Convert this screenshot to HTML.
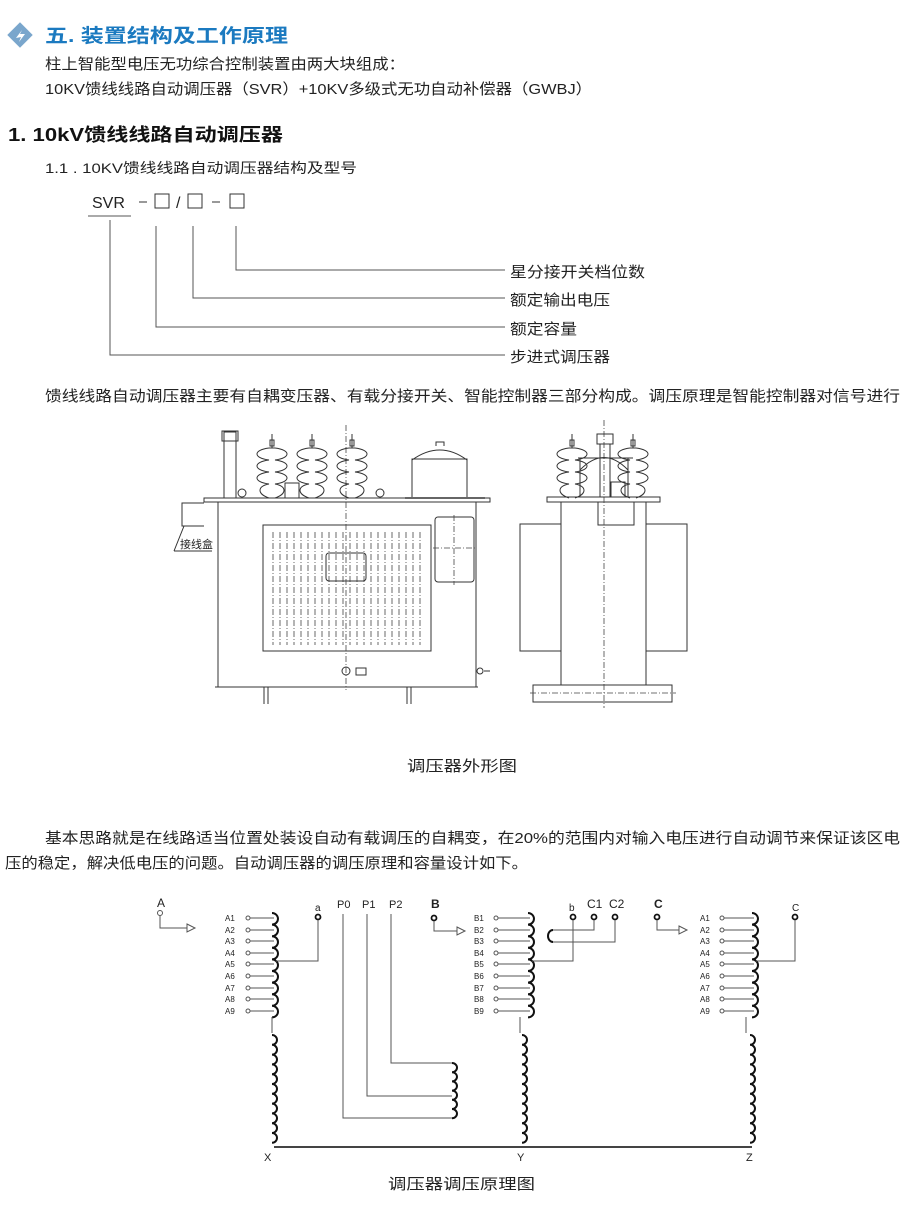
<!DOCTYPE html>
<html><head><meta charset="utf-8"><style>
html,body{margin:0;padding:0;background:#fff;width:910px;height:1223px;overflow:hidden}
svg{display:block}
text{font-family:"Liberation Sans","Noto Sans CJK SC",sans-serif;fill:#222}
.t{font-size:15px}
.s{font-size:8px;fill:#333}
.l{stroke:#555;stroke-width:1;fill:none}
.d{stroke:#333;stroke-width:1;fill:none}
.dash{stroke:#444;stroke-width:0.8;fill:none;stroke-dasharray:6,2,1,2}
.c{stroke:#111;stroke-width:2;fill:none}
.o{fill:#fff;stroke:#555;stroke-width:1}
.ob{fill:#fff;stroke:#111;stroke-width:1.8}
</style></head><body>
<svg width="910" height="1223" viewBox="0 0 910 1223" xmlns="http://www.w3.org/2000/svg">
<defs>
<path id="bush" class="d" d="M-3 0 c-16 2 -16 10 0 12 c-16 2 -16 10 0 12 c-16 2 -16 10 0 12 c-12 2 -12 10 0 14 M3 0 c16 2 16 10 0 12 c16 2 16 10 0 12 c16 2 16 10 0 12 c12 2 12 10 0 14 M-3 0 H3 M0 -14 V0 M-2 -8h4v6h-4z"/>
</defs>
<!-- header icon -->
<g transform="translate(20,35) rotate(45)">
<rect x="-9" y="-9" width="18" height="18" fill="#7aa6cc"/>
</g>
<path d="M16 38 L22 30 L20 34 L25 34 L19 42 L21 37 Z" fill="#fff"/>
<text x="45" y="42" textLength="243" lengthAdjust="spacingAndGlyphs" style="font-size:19px;font-weight:bold;fill:#1b7ac0">五.  装置结构及工作原理</text>
<text class="t" x="45" y="69" textLength="360" lengthAdjust="spacingAndGlyphs">柱上智能型电压无功综合控制装置由两大块组成：</text>
<text class="t" x="45" y="94" textLength="547" lengthAdjust="spacingAndGlyphs">10KV馈线线路自动调压器（SVR）+10KV多级式无功自动补偿器（GWBJ）</text>
<text x="8" y="141" textLength="275" lengthAdjust="spacingAndGlyphs" style="font-size:18px;font-weight:bold;fill:#111">1.  10kV馈线线路自动调压器</text>
<text class="t" x="45" y="173" textLength="312" lengthAdjust="spacingAndGlyphs" style="font-size:14px">1.1 . 10KV馈线线路自动调压器结构及型号</text>
<!-- model code -->
<text x="92" y="208" style="font-size:16px">SVR</text>
<line x1="88" y1="216" x2="131" y2="216" stroke="#777" stroke-width="1.2"/>
<line x1="139" y1="202" x2="147" y2="202" stroke="#333"/>
<rect x="155" y="194" width="14" height="14" class="d" stroke-width="1.3"/>
<text x="176" y="208" style="font-size:16px">/</text>
<rect x="188" y="194" width="14" height="14" class="d" stroke-width="1.3"/>
<line x1="212" y1="202" x2="220" y2="202" stroke="#333"/>
<rect x="230" y="194" width="14" height="14" class="d" stroke-width="1.3"/>
<path class="l" d="M236 226 V270 H505 M193 226 V298 H505 M156 226 V327 H505 M110 220 V355 H505"/>
<text class="t" x="510" y="277" textLength="135" lengthAdjust="spacingAndGlyphs">星分接开关档位数</text>
<text class="t" x="510" y="305" textLength="100" lengthAdjust="spacingAndGlyphs">额定输出电压</text>
<text class="t" x="510" y="334" textLength="67" lengthAdjust="spacingAndGlyphs">额定容量</text>
<text class="t" x="510" y="362" textLength="100" lengthAdjust="spacingAndGlyphs">步进式调压器</text>
<text class="t" x="45" y="401" textLength="855" lengthAdjust="spacingAndGlyphs">馈线线路自动调压器主要有自耦变压器、有载分接开关、智能控制器三部分构成。调压原理是智能控制器对信号进行</text>

<!-- transformer front view -->
<g>
<rect x="204" y="498" width="286" height="4" class="d" fill="#ddd"/>
<path class="d" d="M218 502 V687 M476 502 V687 M215 687 H478"/>
<rect x="263" y="525" width="168" height="126" class="d"/>
<g class="dash">
<path d="M273 532V645M280 532V645M287 532V645M294 532V645M301 532V645M308 532V645M315 532V645M322 532V645M329 532V645M336 532V645M343 532V645M350 532V645M357 532V645M364 532V645M371 532V645M378 532V645M385 532V645M392 532V645M399 532V645M406 532V645M413 532V645M420 532V645"/>
</g>
<rect x="326" y="553" width="40" height="28" rx="3" class="d" fill="#fff"/>
<rect x="435" y="517" width="39" height="65" rx="3" class="d"/>
<path class="dash" d="M454 515V585 M433 548H476 M346 425V690"/>
<circle cx="346" cy="671" r="4" class="d"/><rect x="356" y="668" width="10" height="7" class="d"/>
<path class="d" d="M264 687V704M268 687V704M407 687V704M411 687V704M484 671h6"/>
<circle cx="480" cy="671" r="3" class="d"/>
<!-- pipe -->
<rect x="224" y="432" width="12" height="66" class="d"/>
<rect x="222" y="431" width="16" height="10" class="d"/>
<!-- bushings -->
<use href="#bush" x="272" y="448"/>
<use href="#bush" x="312" y="448"/>
<use href="#bush" x="352" y="448"/>
<rect x="285" y="483" width="14" height="15" class="d" fill="#fff"/>
<circle cx="242" cy="493" r="4" class="d"/><circle cx="380" cy="493" r="4" class="d"/>
<!-- conservator -->
<rect x="412" y="459" width="55" height="39" class="d"/>
<path class="d" d="M412 460 Q440 440 467 460 M436 446v-4h8v4"/>
<rect x="405" y="497" width="80" height="2" fill="#666"/>
<!-- junction box -->
<path class="d" d="M204 503 H182 V526 H204"/>
<path class="d" d="M174 551 L184 526 M174 551 H212"/>
<text x="180" y="548" style="font-size:11px">接线盒</text>
</g>
<!-- side view -->
<g>
<rect x="547" y="497" width="113" height="5" class="d" fill="#ddd"/>
<path class="d" d="M561 502V685 M646 502V685"/>
<rect x="520" y="524" width="41" height="127" class="d"/>
<rect x="646" y="524" width="41" height="127" class="d"/>
<rect x="598" y="502" width="36" height="23" class="d"/>
<rect x="533" y="685" width="139" height="17" class="d"/>
<path class="dash" d="M604 420V708 M530 693H676"/>
<path class="d" d="M580 470 Q604 445 628 470 M578 458H633 M580 458V497 M628 458V497"/>
<rect x="597" y="434" width="16" height="10" class="d" fill="#fff"/>
<rect x="600" y="444" width="10" height="53" class="d" fill="#fff"/>
<rect x="611" y="482" width="14" height="15" class="d" fill="#fff"/>
<use href="#bush" x="572" y="448"/>
<use href="#bush" x="633" y="448"/>
</g>
<text class="t" x="407" y="771" textLength="110" lengthAdjust="spacingAndGlyphs">调压器外形图</text>
<text class="t" x="45" y="843" textLength="855" lengthAdjust="spacingAndGlyphs">基本思路就是在线路适当位置处装设自动有载调压的自耦变，在20%的范围内对输入电压进行自动调节来保证该区电</text>
<text class="t" x="5" y="868" textLength="523" lengthAdjust="spacingAndGlyphs">压的稳定，解决低电压的问题。自动调压器的调压原理和容量设计如下。</text>

<!-- circuit -->
<g>
<!-- Phase A -->
<text x="157" y="907" style="font-size:12px">A</text>
<circle cx="160" cy="913" r="2.5" class="o"/>
<path class="l" d="M160 916V928H187"/><path class="l" d="M187 924L195 928L187 932Z"/>
<path class="c" d="M272 913 a6 5.8 0 0 1 0 11.6 a6 5.8 0 0 1 0 11.6 a6 5.8 0 0 1 0 11.6 a6 5.8 0 0 1 0 11.6 a6 5.8 0 0 1 0 11.6 a6 5.8 0 0 1 0 11.6 a6 5.8 0 0 1 0 11.6 a6 5.8 0 0 1 0 11.6 a6 5.8 0 0 1 0 11.6"/>
<path class="l" d="M272 1017V1033"/>
<path class="c" d="M272 1035 a5 4.9 0 0 1 0 9.8 a5 4.9 0 0 1 0 9.8 a5 4.9 0 0 1 0 9.8 a5 4.9 0 0 1 0 9.8 a5 4.9 0 0 1 0 9.8 a5 4.9 0 0 1 0 9.8 a5 4.9 0 0 1 0 9.8 a5 4.9 0 0 1 0 9.8 a5 4.9 0 0 1 0 9.8 a5 4.9 0 0 1 0 9.8 a5 4.9 0 0 1 0 9.8"/>
<g class="l"><path d="M248 918H274M248 930H274M248 941H274M248 953H274M248 964H274M248 976H274M248 988H274M248 999H274M248 1011H274"/></g>
<g><circle cx="248" cy="918" r="2" class="o"/><circle cx="248" cy="930" r="2" class="o"/><circle cx="248" cy="941" r="2" class="o"/><circle cx="248" cy="953" r="2" class="o"/><circle cx="248" cy="964" r="2" class="o"/><circle cx="248" cy="976" r="2" class="o"/><circle cx="248" cy="988" r="2" class="o"/><circle cx="248" cy="999" r="2" class="o"/><circle cx="248" cy="1011" r="2" class="o"/></g>
<g class="s"><text x="225" y="921">A1</text><text x="225" y="933">A2</text><text x="225" y="944">A3</text><text x="225" y="956">A4</text><text x="225" y="967">A5</text><text x="225" y="979">A6</text><text x="225" y="991">A7</text><text x="225" y="1002">A8</text><text x="225" y="1014">A9</text></g>
<text x="315" y="911" style="font-size:10px">a</text>
<circle cx="318" cy="917" r="2.5" class="ob"/>
<path class="l" d="M318 920V961H276"/>
<!-- P -->
<text x="337" y="908" style="font-size:11px">P0</text><text x="362" y="908" style="font-size:11px">P1</text><text x="389" y="908" style="font-size:11px">P2</text>
<path class="l" d="M343 914V1118H452 M367 914V1096H452 M391 914V1063H452"/>
<path class="c" d="M452 1063 a5 4.6 0 0 1 0 9.2 a5 4.6 0 0 1 0 9.2 a5 4.6 0 0 1 0 9.2 a5 4.6 0 0 1 0 9.2 a5 4.6 0 0 1 0 9.2 a5 4.6 0 0 1 0 9.2"/>
<!-- bottom bus -->
<path d="M274 1147H752" stroke="#444" stroke-width="2"/>
<text x="264" y="1161" style="font-size:11px">X</text>
<text x="517" y="1161" style="font-size:11px">Y</text>
<text x="746" y="1161" style="font-size:11px">Z</text>
<!-- Phase B -->
<text x="431" y="908" style="font-size:12px;font-weight:bold">B</text>
<circle cx="434" cy="918" r="2.5" class="ob"/>
<path class="l" d="M434 921V931H457"/><path class="l" d="M457 927L465 931L457 935Z"/>
<path class="c" d="M528 913 a6 5.8 0 0 1 0 11.6 a6 5.8 0 0 1 0 11.6 a6 5.8 0 0 1 0 11.6 a6 5.8 0 0 1 0 11.6 a6 5.8 0 0 1 0 11.6 a6 5.8 0 0 1 0 11.6 a6 5.8 0 0 1 0 11.6 a6 5.8 0 0 1 0 11.6 a6 5.8 0 0 1 0 11.6"/>
<path class="l" d="M520 1017V1033"/>
<path class="c" d="M522 1035 a5 4.9 0 0 1 0 9.8 a5 4.9 0 0 1 0 9.8 a5 4.9 0 0 1 0 9.8 a5 4.9 0 0 1 0 9.8 a5 4.9 0 0 1 0 9.8 a5 4.9 0 0 1 0 9.8 a5 4.9 0 0 1 0 9.8 a5 4.9 0 0 1 0 9.8 a5 4.9 0 0 1 0 9.8 a5 4.9 0 0 1 0 9.8 a5 4.9 0 0 1 0 9.8"/>
<g class="l"><path d="M496 918H530M496 930H530M496 941H530M496 953H530M496 964H530M496 976H530M496 988H530M496 999H530M496 1011H530"/></g>
<g><circle cx="496" cy="918" r="2" class="o"/><circle cx="496" cy="930" r="2" class="o"/><circle cx="496" cy="941" r="2" class="o"/><circle cx="496" cy="953" r="2" class="o"/><circle cx="496" cy="964" r="2" class="o"/><circle cx="496" cy="976" r="2" class="o"/><circle cx="496" cy="988" r="2" class="o"/><circle cx="496" cy="999" r="2" class="o"/><circle cx="496" cy="1011" r="2" class="o"/></g>
<g class="s"><text x="474" y="921">B1</text><text x="474" y="933">B2</text><text x="474" y="944">B3</text><text x="474" y="956">B4</text><text x="474" y="967">B5</text><text x="474" y="979">B6</text><text x="474" y="991">B7</text><text x="474" y="1002">B8</text><text x="474" y="1014">B9</text></g>
<text x="569" y="911" style="font-size:10px">b</text>
<circle cx="573" cy="917" r="2.5" class="ob"/>
<text x="587" y="908" style="font-size:12px">C1</text><text x="609" y="908" style="font-size:12px">C2</text>
<circle cx="594" cy="917" r="2.5" class="ob"/><circle cx="615" cy="917" r="2.5" class="ob"/>
<path class="l" d="M573 920V961H532 M594 920V930H553 M615 920V942H553"/>
<path class="c" d="M553 930 a5 6 0 0 0 0 12"/>
<!-- Phase C -->
<text x="654" y="908" style="font-size:12px;font-weight:bold">C</text>
<circle cx="657" cy="917" r="2.5" class="ob"/>
<path class="l" d="M657 920V930H679"/><path class="l" d="M679 926L687 930L679 934Z"/>
<path class="c" d="M752 913 a6 5.8 0 0 1 0 11.6 a6 5.8 0 0 1 0 11.6 a6 5.8 0 0 1 0 11.6 a6 5.8 0 0 1 0 11.6 a6 5.8 0 0 1 0 11.6 a6 5.8 0 0 1 0 11.6 a6 5.8 0 0 1 0 11.6 a6 5.8 0 0 1 0 11.6 a6 5.8 0 0 1 0 11.6"/>
<path class="l" d="M746 1017V1033"/>
<path class="c" d="M750 1035 a5 4.9 0 0 1 0 9.8 a5 4.9 0 0 1 0 9.8 a5 4.9 0 0 1 0 9.8 a5 4.9 0 0 1 0 9.8 a5 4.9 0 0 1 0 9.8 a5 4.9 0 0 1 0 9.8 a5 4.9 0 0 1 0 9.8 a5 4.9 0 0 1 0 9.8 a5 4.9 0 0 1 0 9.8 a5 4.9 0 0 1 0 9.8 a5 4.9 0 0 1 0 9.8"/>
<g class="l"><path d="M722 918H754M722 930H754M722 941H754M722 953H754M722 964H754M722 976H754M722 988H754M722 999H754M722 1011H754"/></g>
<g><circle cx="722" cy="918" r="2" class="o"/><circle cx="722" cy="930" r="2" class="o"/><circle cx="722" cy="941" r="2" class="o"/><circle cx="722" cy="953" r="2" class="o"/><circle cx="722" cy="964" r="2" class="o"/><circle cx="722" cy="976" r="2" class="o"/><circle cx="722" cy="988" r="2" class="o"/><circle cx="722" cy="999" r="2" class="o"/><circle cx="722" cy="1011" r="2" class="o"/></g>
<g class="s"><text x="700" y="921">A1</text><text x="700" y="933">A2</text><text x="700" y="944">A3</text><text x="700" y="956">A4</text><text x="700" y="967">A5</text><text x="700" y="979">A6</text><text x="700" y="991">A7</text><text x="700" y="1002">A8</text><text x="700" y="1014">A9</text></g>
<text x="792" y="911" style="font-size:10px">C</text>
<circle cx="795" cy="917" r="2.5" class="ob"/>
<path class="l" d="M795 920V961H756"/>
</g>
<text class="t" x="388" y="1189" textLength="147" lengthAdjust="spacingAndGlyphs">调压器调压原理图</text>
</svg>
</body></html>
